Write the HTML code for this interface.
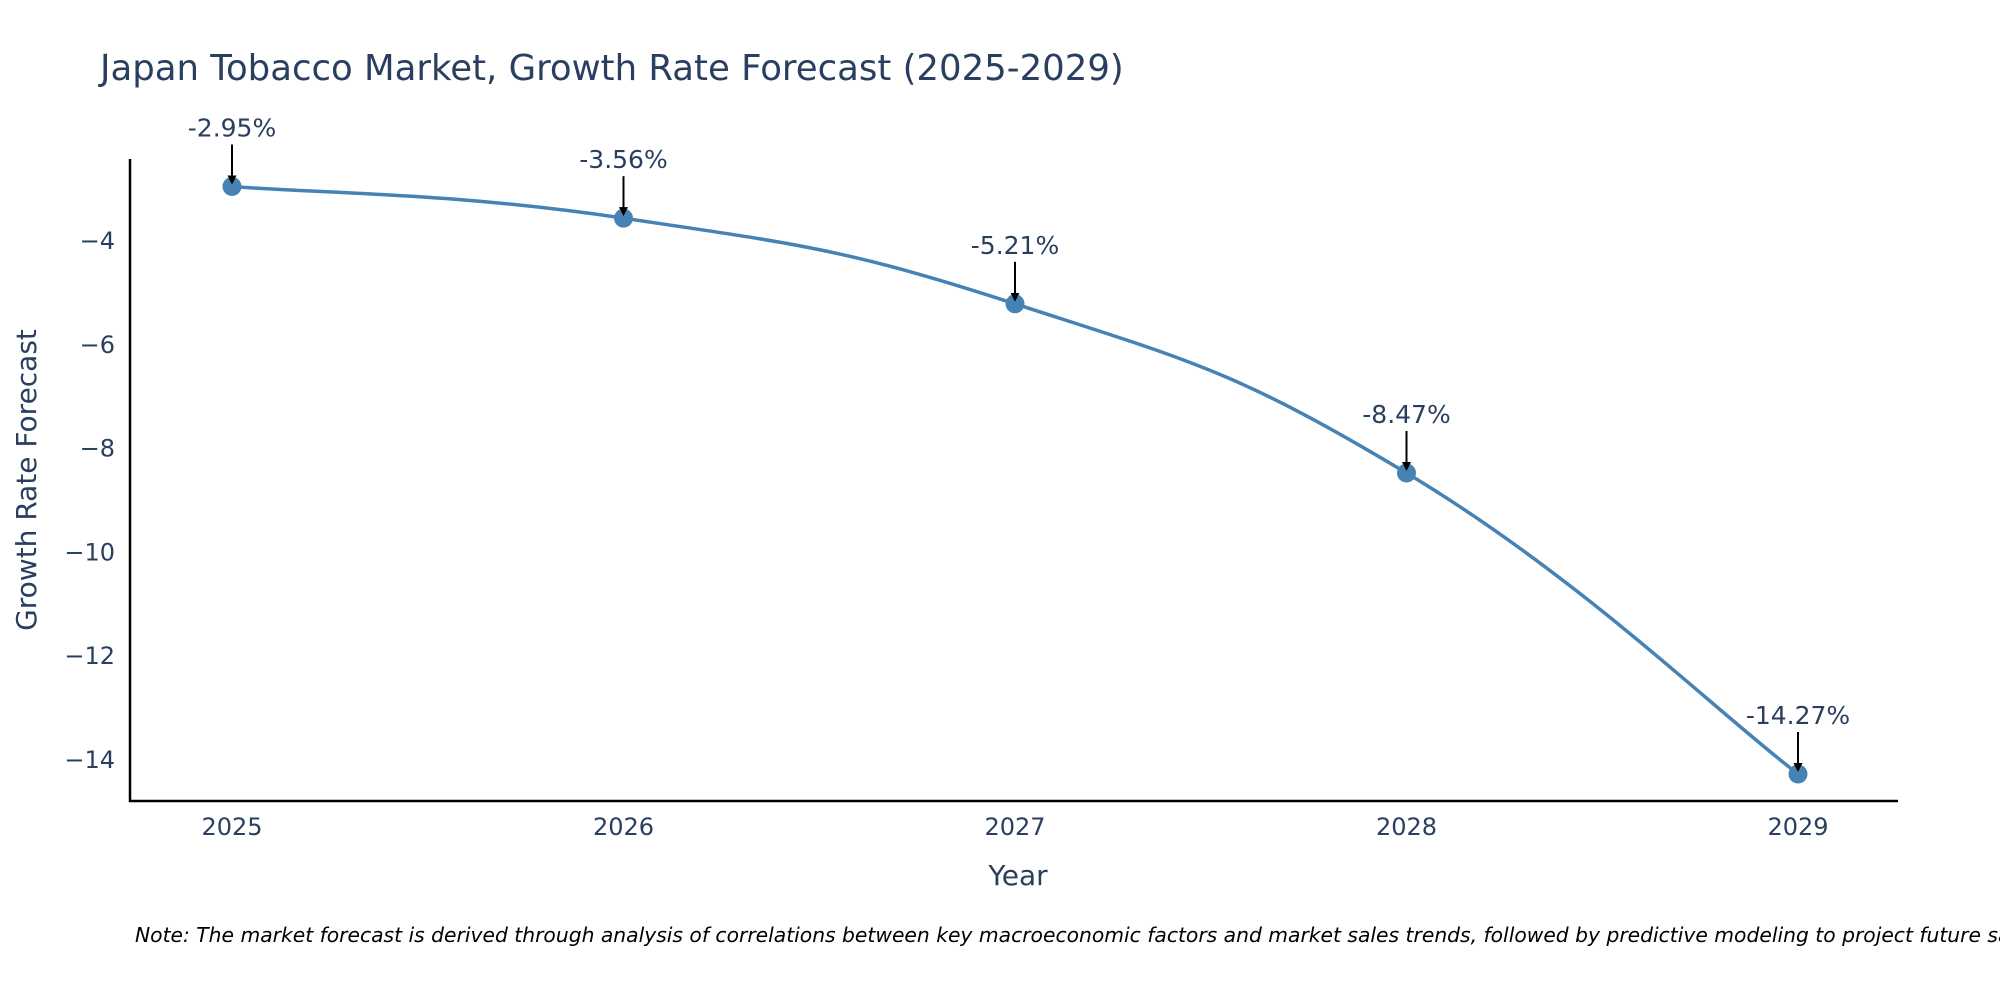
<!DOCTYPE html>
<html><head><meta charset="utf-8"><style>
body{margin:0;background:#fff;}
svg text{font-family:"DejaVu Sans","Liberation Sans",sans-serif;fill:#2a3f5f;}
</style></head><body>
<svg id="chart" width="2000" height="1000" xmlns="http://www.w3.org/2000/svg">
<text x="100" y="80" font-size="35.5">Japan Tobacco Market, Growth Rate Forecast (2025-2029)</text>
<line x1="130" y1="159" x2="130" y2="802" stroke="#000" stroke-width="2.5"/>
<line x1="129" y1="801" x2="1898" y2="801" stroke="#000" stroke-width="2.5"/>
<text x="1018" y="885" font-size="28" text-anchor="middle">Year</text>
<text transform="translate(36,480) rotate(-90)" font-size="28" text-anchor="middle">Growth Rate Forecast</text>
<text x="135" y="942" font-size="20.3" font-style="italic" style="fill:#000">Note: The market forecast is derived through analysis of correlations between key macroeconomic factors and market sales trends, followed by predictive modeling to project future sales.</text>
<defs><marker id="arr" markerWidth="9" markerHeight="9" refX="7" refY="4.5" orient="auto" markerUnits="userSpaceOnUse"><path d="M0,0 L9,4.5 L0,9 z" fill="#000"/></marker></defs>
<g id="plot"></g>
</svg>
<script>
const years=[2025,2026,2027,2028,2029];
const values=[-2.95,-3.56,-5.21,-8.47,-14.27];
const labels=["-2.95%","-3.56%","-5.21%","-8.47%","-14.27%"];
const yTicks=[-4,-6,-8,-10,-12,-14];
const NS="http://www.w3.org/2000/svg";
const svg=document.getElementById('chart');
const plot=document.getElementById('plot');
const xs=y=>232+(y-2025)*391.5;
const ys=v=>241+(-4-v)*51.9;
function mk(t,a,p){const e=document.createElementNS(NS,t);for(const k in a)e.setAttribute(k,a[k]);(p||svg).appendChild(e);return e;}
yTicks.forEach(t=>{
 const e=mk('text',{x:115,y:ys(t)+8,'font-size':24,'text-anchor':'end'});
 e.textContent='\u2212'+Math.abs(t);
 
 
});
years.forEach(y=>{
 const e=mk('text',{x:xs(y),y:835,'font-size':24,'text-anchor':'middle'});
 e.textContent=y;
 
 
});
const P=years.map((y,i)=>[xs(y),ys(values[i])]);
let d='M'+P[0][0]+','+P[0][1];
const s=0.22;
for(let i=0;i<P.length-1;i++){
 const p0=P[Math.max(i-1,0)],p1=P[i],p2=P[i+1],p3=P[Math.min(i+2,P.length-1)];
 const c1=[p1[0]+(p2[0]-p0[0])*s,p1[1]+(p2[1]-p0[1])*s];
 const c2=[p2[0]-(p3[0]-p1[0])*s,p2[1]-(p3[1]-p1[1])*s];
 d+=` C${c1[0]},${c1[1]} ${c2[0]},${c2[1]} ${p2[0]},${p2[1]}`;
}
const line=mk('path',{d:d,fill:'none',stroke:'#4682b4','stroke-width':3.5},plot);


P.forEach((p,i)=>{
 const c=mk('circle',{cx:p[0],cy:p[1],r:9.5,fill:'#4682b4'},plot);
 
 
 const a=mk('line',{x1:p[0],y1:p[1]-42,x2:p[0],y2:p[1]-4,stroke:'#000','stroke-width':2,'marker-end':'url(#arr)'},plot);
 
 
 const t=mk('text',{x:p[0],y:p[1]-50,'font-size':25,'text-anchor':'middle'},plot);
 t.textContent=labels[i];
 
 
});
</script>
</body></html>
